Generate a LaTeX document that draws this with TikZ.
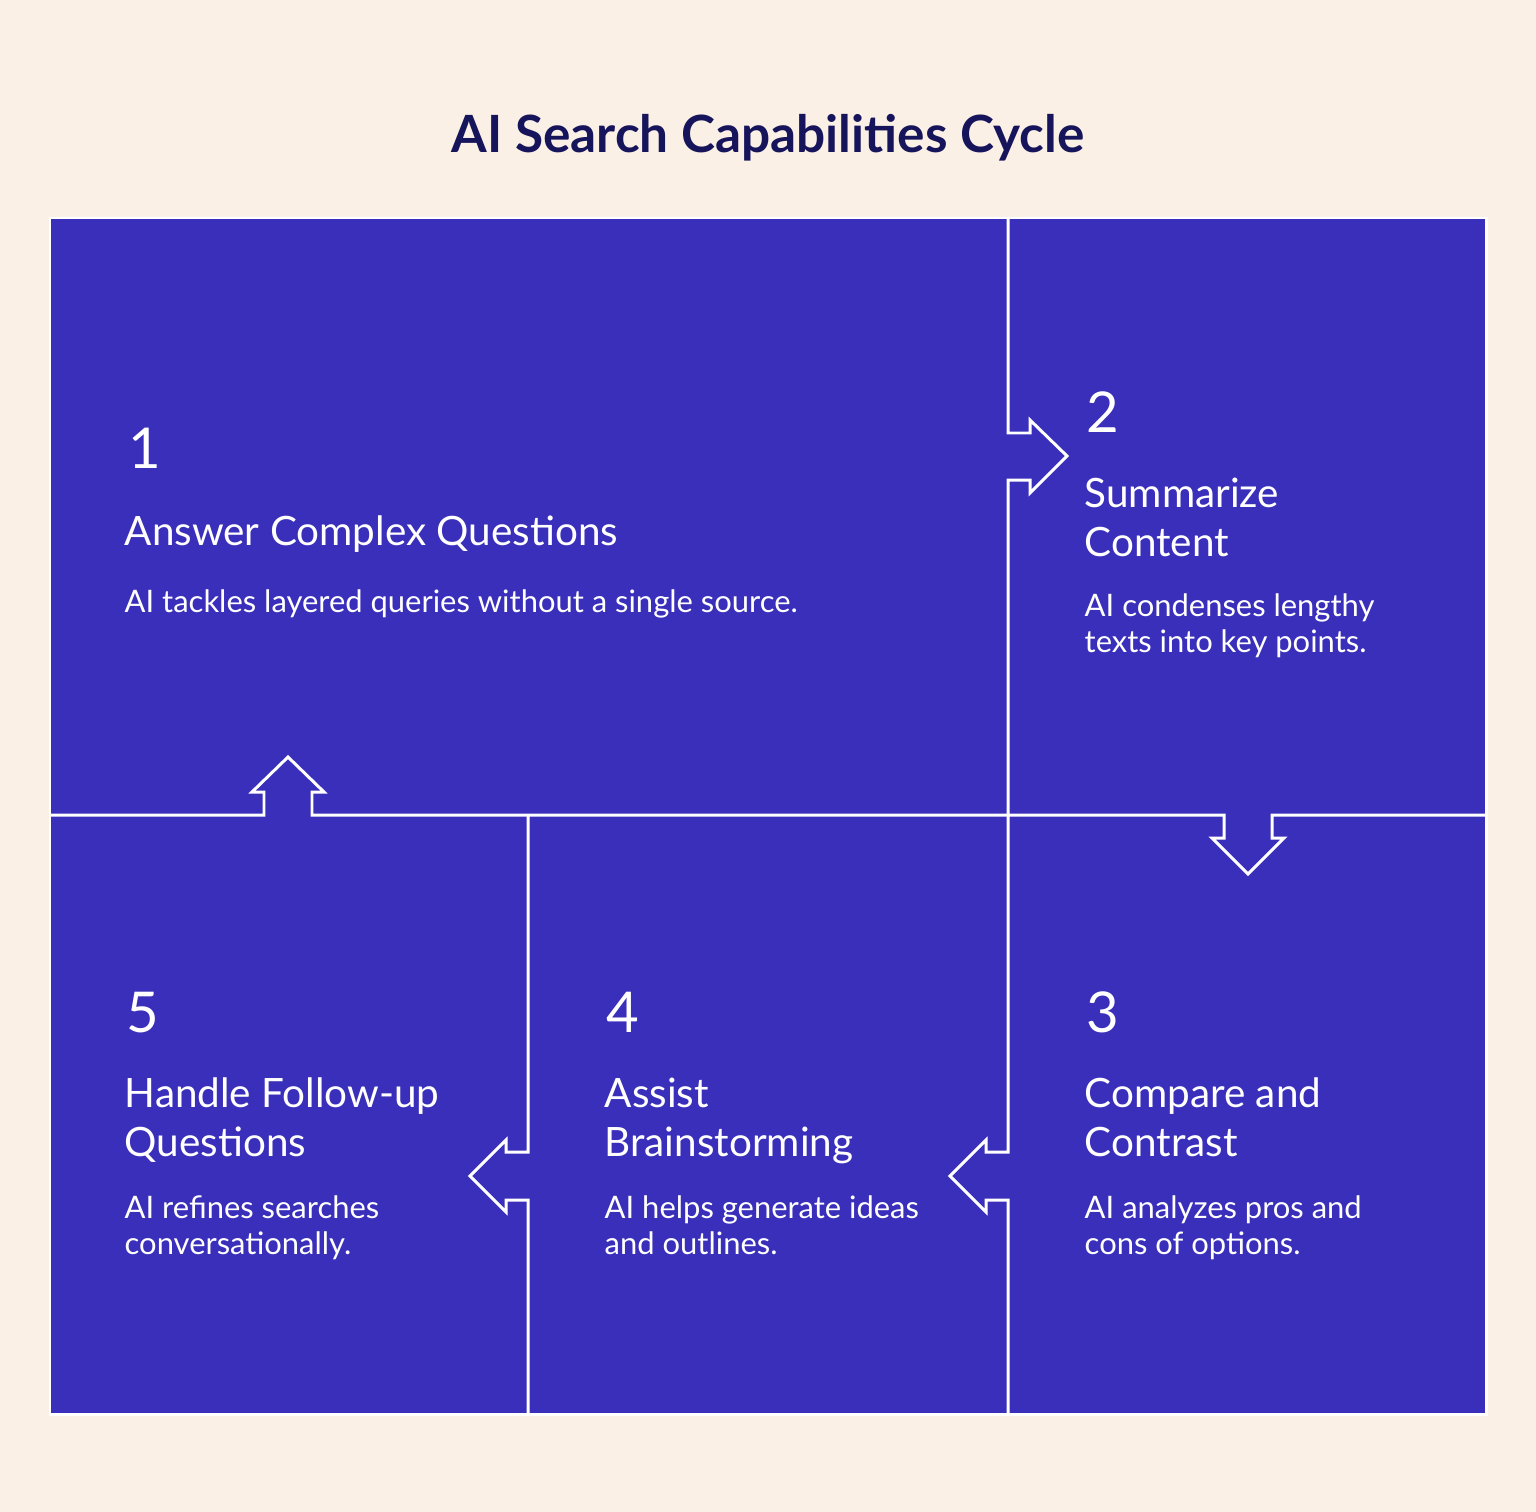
\documentclass[tikz,border=0pt]{standalone}
\usepackage{fontspec}
\setmainfont{Lato}
\usetikzlibrary{positioning}
\definecolor{cream}{HTML}{FBF0E6}
\definecolor{panelblue}{HTML}{3A2FBA}
\definecolor{titlenavy}{HTML}{16145A}
\tikzset{
  num/.style={anchor=base west,inner sep=0pt,text=white,font=\fontsize{16}{16}\selectfont},
  head/.style={anchor=base west,inner sep=0pt,text=white,align=left,font=\fontsize{11.5}{13.7}\selectfont},
  body/.style={anchor=base west,inner sep=0pt,text=white,align=left,font=\fontsize{8.8}{10.2}\selectfont},
  seam/.style={draw=white,line width=0.85pt,line join=miter}
}
\begin{document}
\begin{tikzpicture}[x=0.01cm,y=-0.01cm]
	\fill[cream] (0,0) rectangle (1536,1512);
	\useasboundingbox (0,0) rectangle (1536,1512);
	\node (title) [anchor=base,inner sep=0pt,text=titlenavy,font=\fontsize{14.6}{16}\selectfont\bfseries] at (768,152) {AI Search Capabilities Cycle};
	\fill[panelblue] (50,218) rectangle (1486,1414);
	\draw[white,line width=0.85pt] (50,218) rectangle (1486,1414);
	% seams with arrows
	\draw[seam] (1008,218) -- (1008,433) -- (1030,433) -- (1030,420) -- (1067,456) -- (1030,493) -- (1030,480) -- (1008,480) -- (1008,815);
	\draw[seam] (1008,815) -- (1224,815) -- (1224,838) -- (1212,838) -- (1248,874) -- (1284,838) -- (1272,838) -- (1272,815) -- (1486,815);
	\draw[seam] (50,815) -- (264,815) -- (264,792) -- (252,792) -- (288,757) -- (324,792) -- (312,792) -- (312,815) -- (1008,815);
	\draw[seam] (1008,815) -- (1008,1152) -- (986,1152) -- (986,1140) -- (950,1176) -- (986,1212) -- (986,1200) -- (1008,1200) -- (1008,1414);
	\draw[seam] (528,815) -- (528,1152) -- (506,1152) -- (506,1140) -- (470,1176) -- (506,1212) -- (506,1200) -- (528,1200) -- (528,1414);
	% panel 1
	\node (n1) [num] at (128,468) {1};
	\node (h1) [head] at (124,545) {Answer Complex Questions};
	\node (b1) [body] at (124,612) {AI tackles layered queries without a single source.};
	% panel 2
	\node (n2) [num] at (1086,432) {2};
	\node (h2) [head] at (1084,556) {Summarize\\Content};
	\node (b2) [body] at (1084,652) {AI condenses lengthy\\texts into key points.};
	% panel 3
	\node (n3) [num] at (1086,1032) {3};
	\node (h3) [head] at (1084,1156) {Compare and\\Contrast};
	\node (b3) [body] at (1084,1254) {AI analyzes pros and\\cons of options.};
	% panel 4
	\node (n4) [num] at (606,1032) {4};
	\node (h4) [head] at (604,1156) {Assist\\Brainstorming};
	\node (b4) [body] at (604,1254) {AI helps generate ideas\\and outlines.};
	% panel 5
	\node (n5) [num] at (126,1032) {5};
	\node (h5) [head] at (124,1156) {Handle Follow-up\\Questions};
	\node (b5) [body] at (124,1254) {AI refines searches\\conversationally.};
\end{tikzpicture}
\end{document}
